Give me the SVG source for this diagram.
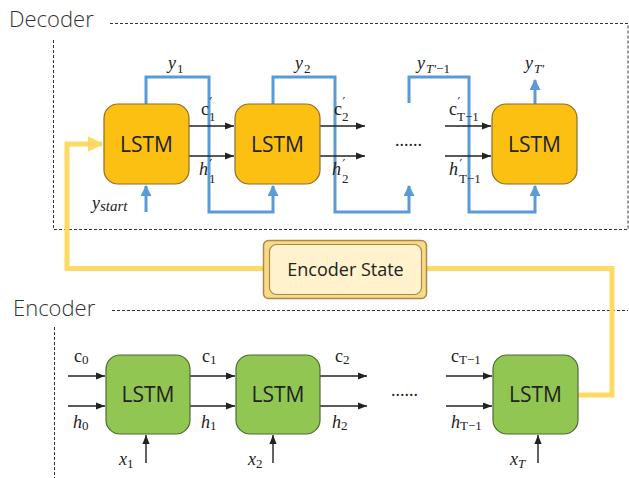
<svg xmlns="http://www.w3.org/2000/svg" width="629" height="478" viewBox="0 0 629 478">
<defs>
<style>
.dash{fill:none;stroke:#333;stroke-width:1;stroke-dasharray:3,2}
.dec rect{fill:#FBC012;stroke:#8C6D2E;stroke-width:1.2}
.enc rect{fill:#92C652;stroke:#4E6B33;stroke-width:1.2}
.lbl{font-family:"Open Sans","Noto Sans",sans-serif;font-size:21px;fill:#222;text-anchor:middle}
.title{font-family:"Open Sans","Noto Sans",sans-serif;font-size:22px;fill:#333;font-weight:300}
.blk{fill:none;stroke:#222;stroke-width:1.4}
.blue{fill:none;stroke:#5B9BD5;stroke-width:3}
.yel{fill:none;stroke:#FFD966;stroke-width:5}
.m{font-family:"Liberation Serif",serif;font-size:18px;fill:#222}
.i{font-style:italic}
.s{font-size:13px}
.p{font-size:12px;font-family:"DejaVu Sans",sans-serif}
</style>
<marker id="ab" viewBox="0 0 10 10" refX="10" refY="5" markerWidth="9" markerHeight="9" markerUnits="userSpaceOnUse" orient="auto"><path d="M0,1 L10,5 L0,9 z" fill="#222"/></marker>
<marker id="abl" viewBox="0 0 10 10" refX="9" refY="5" markerWidth="11" markerHeight="11" markerUnits="userSpaceOnUse" orient="auto"><path d="M0,0 L10,5 L0,10 z" fill="#5B9BD5"/></marker>
<marker id="ay" viewBox="0 0 10 10" refX="9" refY="5" markerWidth="16" markerHeight="18" markerUnits="userSpaceOnUse" orient="auto"><path d="M0,0 L10,5 L0,10 z" fill="#FFD966"/></marker>
</defs>

<text class="title" x="9" y="27">Decoder</text>
<text class="title" x="13" y="316">Encoder</text>
<path class="dash" d="M110,23.5 H628 V229.5 H53.5 V40"/>
<path class="dash" d="M112,310.5 H628"/>
<path class="dash" d="M54.5,327 V478"/>

<g id="connectors">
<path class="yel" d="M578,395 H612 V268.5 H427"/>
<path class="yel" d="M263,268.5 H67 V144 H102" marker-end="url(#ay)"/>
<path class="blue" d="M146,104 V77 H209 V212 H273 V186" marker-end="url(#abl)"/>
<path class="blue" d="M273,104 V77 H335 V212 H409 V186" marker-end="url(#abl)"/>
<path class="blue" d="M409,103 V77 H469 V212 H535 V186" marker-end="url(#abl)"/>
<path class="blue" d="M535,104 V80" marker-end="url(#abl)"/>
<path class="blue" d="M146,212 V186" marker-end="url(#abl)"/>
<path class="blk" d="M189,126 H234" marker-end="url(#ab)"/>
<path class="blk" d="M189,156 H234" marker-end="url(#ab)"/>
<path class="blk" d="M320,126 H365" marker-end="url(#ab)"/>
<path class="blk" d="M320,156 H365" marker-end="url(#ab)"/>
<path class="blk" d="M445,126 H491" marker-end="url(#ab)"/>
<path class="blk" d="M445,156 H491" marker-end="url(#ab)"/>
<path class="blk" d="M68,376 H105" marker-end="url(#ab)"/>
<path class="blk" d="M68,406 H105" marker-end="url(#ab)"/>
<path class="blk" d="M190,376 H235" marker-end="url(#ab)"/>
<path class="blk" d="M190,406 H235" marker-end="url(#ab)"/>
<path class="blk" d="M320,376 H367" marker-end="url(#ab)"/>
<path class="blk" d="M320,406 H367" marker-end="url(#ab)"/>
<path class="blk" d="M446,376 H492" marker-end="url(#ab)"/>
<path class="blk" d="M446,406 H492" marker-end="url(#ab)"/>
<path class="blk" d="M146,463 V435" marker-end="url(#ab)"/>
<path class="blk" d="M273,463 V435" marker-end="url(#ab)"/>
<path class="blk" d="M538,463 V435" marker-end="url(#ab)"/>
</g>

<g id="dec1" class="dec"><rect x="104" y="104" width="85" height="80" rx="14"/><text class="lbl" x="146.5" y="152">LSTM</text></g>
<g id="dec2" class="dec"><rect x="235" y="104" width="85" height="80" rx="14"/><text class="lbl" x="277.5" y="152">LSTM</text></g>
<g id="dec3" class="dec"><rect x="492" y="104" width="85" height="80" rx="14"/><text class="lbl" x="534.5" y="152">LSTM</text></g>
<g id="enc1" class="enc"><rect x="106" y="355" width="84" height="79" rx="14"/><text class="lbl" x="148" y="402">LSTM</text></g>
<g id="enc2" class="enc"><rect x="236" y="355" width="84" height="79" rx="14"/><text class="lbl" x="278" y="402">LSTM</text></g>
<g id="enc3" class="enc"><rect x="493" y="355" width="85" height="79" rx="14"/><text class="lbl" x="535.5" y="402">LSTM</text></g>

<g id="state">
<rect x="263.5" y="240.5" width="163" height="58" rx="5" fill="#F9DA85" stroke="#A88A4E" stroke-width="1.5"/>
<rect x="269.5" y="244.5" width="152" height="50" rx="7" fill="#FFF2CC" stroke="#A88A4E" stroke-width="1.2"/>
<text x="345.5" y="276" font-family="'Open Sans','Noto Sans',sans-serif" font-size="18" fill="#222" text-anchor="middle">Encoder State</text>
</g>

<g id="labels">
<text class="m" x="168" y="69"><tspan class="i">y</tspan><tspan class="s" x="177" y="73">1</tspan></text>
<text class="m" x="295" y="69"><tspan class="i">y</tspan><tspan class="s" x="304" y="73">2</tspan></text>
<text class="m" x="417" y="69"><tspan class="i">y</tspan><tspan class="s i" x="426" y="73">T′</tspan><tspan class="s">−1</tspan></text>
<text class="m" x="525" y="69"><tspan class="i">y</tspan><tspan class="s i" x="534" y="73">T′</tspan></text>

<text class="m" x="201" y="115">c<tspan class="p" x="209.5" y="106">′</tspan><tspan class="s" x="209" y="121">1</tspan></text>
<text class="m" x="199" y="175"><tspan class="i">h</tspan><tspan class="p" x="209.5" y="168">′</tspan><tspan class="s" x="209" y="183">1</tspan></text>
<text class="m" x="334" y="115">c<tspan class="p" x="342.5" y="106">′</tspan><tspan class="s" x="342" y="121">2</tspan></text>
<text class="m" x="332" y="175"><tspan class="i">h</tspan><tspan class="p" x="342.5" y="168">′</tspan><tspan class="s" x="342" y="183">2</tspan></text>
<text class="m" x="449" y="115">c<tspan class="p" x="457.5" y="106">′</tspan><tspan class="s" x="457" y="121">T−1</tspan></text>
<text class="m" x="449" y="175"><tspan class="i">h</tspan><tspan class="p" x="459.5" y="168">′</tspan><tspan class="s" x="459" y="183">T−1</tspan></text>
<text class="m" x="395" y="146" font-size="14">......</text>
<text class="m" x="92" y="209" font-size="19"><tspan class="i">y</tspan><tspan class="i" font-size="15" dy="2">start</tspan></text>

<text class="m" x="74" y="362">c<tspan class="s" dy="2">0</tspan></text>
<text class="m" x="73" y="428"><tspan class="i">h</tspan><tspan class="s" dy="2">0</tspan></text>
<text class="m" x="202" y="362">c<tspan class="s" dy="2">1</tspan></text>
<text class="m" x="201" y="428"><tspan class="i">h</tspan><tspan class="s" dy="2">1</tspan></text>
<text class="m" x="335" y="362">c<tspan class="s" dy="2">2</tspan></text>
<text class="m" x="332" y="428"><tspan class="i">h</tspan><tspan class="s" dy="2">2</tspan></text>
<text class="m" x="451" y="362">c<tspan class="s" dy="2">T−1</tspan></text>
<text class="m" x="451" y="428"><tspan class="i">h</tspan><tspan class="s" dy="2">T−1</tspan></text>
<text class="m" x="391" y="396" font-size="14">......</text>
<text class="m" x="119" y="465"><tspan class="i">x</tspan><tspan class="s" dy="3">1</tspan></text>
<text class="m" x="248" y="465"><tspan class="i">x</tspan><tspan class="s" dy="3">2</tspan></text>
<text class="m" x="510" y="465"><tspan class="i">x</tspan><tspan class="s i" dy="3">T</tspan></text>
</g>
</svg>
